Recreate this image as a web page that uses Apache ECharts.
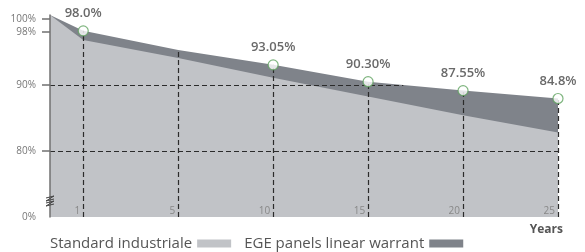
<!DOCTYPE html>
<html>
<head>
<meta charset="utf-8">
<script src="https://cdn.jsdelivr.net/npm/echarts@6/dist/echarts.min.js"></script>
<style>
  html, body { margin: 0; padding: 0; background: #fff; }
  #chart { width: 585px; height: 252px; }
</style>
</head>
<body>
<div id="chart"></div>
<script>
// данные графика
const yearLabels = ['1', '5', '10', '15', '20', '25'];
const startX = 0.65; // начало (год 0) чуть левее первой метки (метки стоят на 1..6)
const warrantValues = [100.6, 98.2, 95.3, 93.05, 90.5, 89.15, 87.95];  // EGE panels linear warrant
const standardValues = [100.6, 96.8, 94.1, 91.1, 88.25, 85.4, 82.8];  // Standard industriale
const pointLabels = ['', '98.0%', '', '93.05%', '90.30%', '87.55%', '84.8%'];
const yTickValues = [100, 98, 90, 80, 70];
const yTickLabels = ['100%', '98%', '90%', '80%', '0%'];
const gridLevels = [90, 80];

const FONT = '"Open Sans", sans-serif';
const xs = [startX].concat(yearLabels.map((_, i) => i + 1));
const pairs = (vals) => vals.map((v, i) => [xs[i], v]);

// где верхняя линия пересекает уровень (чтобы пунктир не выходил за область)
const crossAt = (level) => {
    for (let i = 1; i < warrantValues.length; i++) {
        const a = warrantValues[i - 1], b = warrantValues[i];
        if (a >= level && b < level) return xs[i - 1] + (a - level) / (a - b) * (xs[i] - xs[i - 1]);
    }
    return xs[xs.length - 1];
};

const dashStyle = { type: [5, 3], color: '#2b2b2b', width: 1.2 };
const yMin = yTickValues[yTickValues.length - 1];

const guideLines = [];
yearLabels.forEach((_, i) => {
    guideLines.push([{ coord: [xs[i + 1], yMin] }, { coord: [xs[i + 1], warrantValues[i + 1]] }]);
});
gridLevels.forEach((lv) => {
    guideLines.push([{ coord: [startX, lv] }, { coord: [crossAt(lv), lv] }]);
});

const markers = [];
pointLabels.forEach((t, i) => { if (t) markers.push([xs[i], warrantValues[i], i]); });

const chart = echarts.init(document.getElementById('chart'));
chart.setOption({
    animation: false,
    textStyle: { fontFamily: FONT },
    grid: { left: 50, right: 27, top: 15, bottom: 35 },
    xAxis: {
        type: 'value', min: startX, max: yearLabels.length, z: 10,
        axisLine: { show: false }, axisTick: { show: false }, splitLine: { show: false },
        axisLabel: {
            customValues: yearLabels.map((_, i) => i + 1),
            formatter: (v) => yearLabels[Math.round(v) - 1],
            inside: true, margin: 1, align: 'right', padding: [0, 3, 0, 0],
            color: '#888', fontSize: 10, fontFamily: FONT
        }
    },
    yAxis: {
        type: 'value', min: yMin, max: 100.6, z: 10,
        axisLine: { show: true, lineStyle: { color: '#707070', width: 1.5 } },
        axisTick: { show: true, customValues: yTickValues.slice(0, 4), length: 8, lineStyle: { color: '#707070', width: 1.5 } },
        splitLine: { show: false },
        axisLabel: {
            customValues: yTickValues,
            formatter: (v) => yTickLabels[yTickValues.indexOf(v)],
            margin: 14, color: '#777', fontSize: 10, fontFamily: FONT
        }
    },
    legend: {
        left: 50, top: 236, align: 'right', icon: 'rect', padding: 0,
        itemWidth: 34, itemHeight: 8, itemGap: 13,
        data: ['Standard industriale', 'EGE panels linear warrant'],
        textStyle: { color: '#555', fontSize: 15, fontFamily: FONT }
    },
    series: [
        {
            name: 'EGE panels linear warrant', type: 'line', data: pairs(warrantValues),
            symbol: 'none', lineStyle: { width: 0 },
            itemStyle: { color: '#7f838a' },
            areaStyle: { color: '#7f838a', opacity: 1, origin: 'start' }, z: 1
        },
        {
            name: 'Standard industriale', type: 'line', data: pairs(standardValues),
            symbol: 'none', lineStyle: { width: 0 },
            itemStyle: { color: '#c1c3c7' },
            areaStyle: { color: '#c1c3c7', opacity: 1, origin: 'start' }, z: 2,
            markLine: { silent: true, symbol: 'none', label: { show: false }, lineStyle: dashStyle, data: guideLines }
        },
        {
            name: 'points', type: 'scatter', data: markers, z: 5,
            symbol: 'circle', symbolSize: 10,
            itemStyle: { color: '#fff', borderColor: '#5fa35f', borderWidth: 1.2 },
            label: {
                show: true, position: 'top', distance: 5,
                formatter: (p) => pointLabels[p.value[2]],
                color: '#444', fontSize: 13, fontWeight: 600, fontFamily: FONT
            }
        }
    ],
    graphic: [
        {
            type: 'text', right: 22, top: 224, z: 20,
            style: { text: 'Years', fill: '#555', font: 'bold 12px "Open Sans", sans-serif' }
        },
        {
            type: 'polyline', z: 20, shape: { points: [[46, 198], [54, 196], [46, 201], [54, 199]] },
            style: { stroke: '#444', lineWidth: 1, fill: null }
        },
        {
            type: 'polyline', z: 20, shape: { points: [[46, 203], [54, 201], [46, 206], [54, 204]] },
            style: { stroke: '#444', lineWidth: 1, fill: null }
        }
    ]
});
</script>
</body>
</html>
